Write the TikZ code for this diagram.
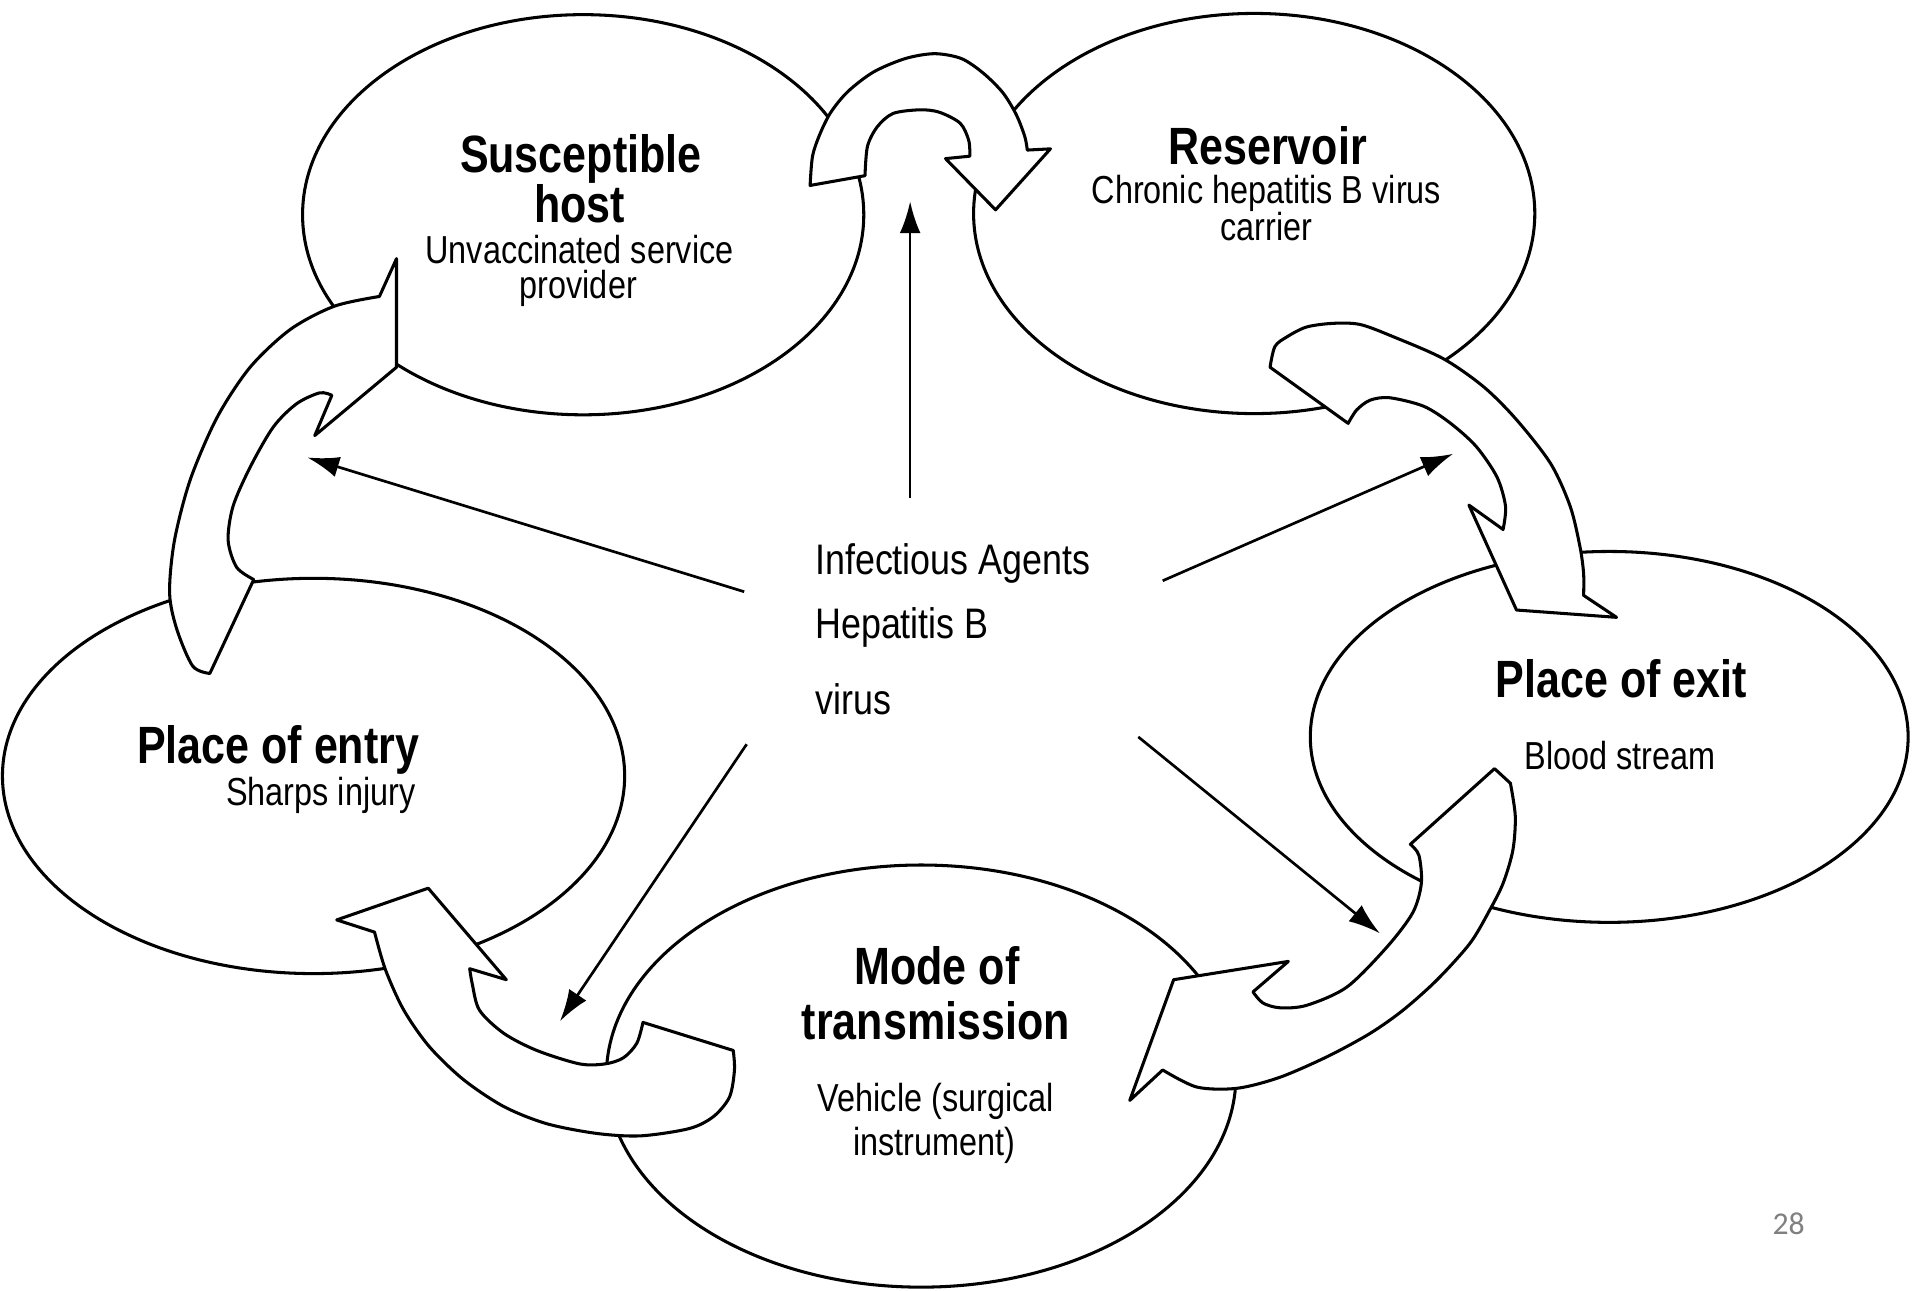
\documentclass[tikz,border=0pt]{standalone}
\usepackage{fontspec}
\setmainfont{Liberation Sans}[FakeStretch=0.83]
\newfontfamily\namefont{Liberation Sans}[FakeStretch=0.82]
\newfontfamily\agentfont{Liberation Sans}[FakeStretch=0.84]
\newfontfamily\slidefont{Carlito}
\usetikzlibrary{shapes.geometric,arrows.meta}

\tikzset{
  stage/.style={ellipse, draw, fill=white, line width=2.5pt, inner sep=0pt},
  ringarrow/.style={draw, fill=white, line width=2.5pt, line join=round},
  stagename/.style={font=\namefont\fontsize{43}{43}\selectfont\bfseries, inner sep=0pt, anchor=base},
  stagenote/.style={font=\fontsize{32}{32}\selectfont, inner sep=0pt, anchor=base},
  agentline/.style={font=\agentfont\fontsize{35}{35}\selectfont, inner sep=0pt, anchor=base west},
}

\begin{document}
\begin{tikzpicture}[>={Latex[length=26pt,width=17pt]},x=1pt,y=-1pt]
  \useasboundingbox (0,0) rectangle (1568,1058);

  % Links of the chain
  \node[stage, minimum width=460pt, minimum height=328pt] (host) at (478,176) {};
  \node[stage, minimum width=460pt, minimum height=328pt] (reservoir) at (1028,175) {};
  \node[stage, minimum width=490pt, minimum height=304pt] (exit) at (1319,604) {};
  \node[stage, minimum width=510pt, minimum height=324pt] (entry) at (257,636) {};
  \node[stage, minimum width=516pt, minimum height=346pt] (mode) at (755,882) {};

  % Host to reservoir
  \path[ringarrow]
    plot[smooth] coordinates {
      (664,152) (666,128) (672,110) (681,92) (695,75) (716,59) (742,48)
      (766,44) (788,48) (806,60) (822,76) (833,94) (840,112) (842,123)
    }
    -- (861,122) -- (816,172) -- (775,130) -- (795,128)
    -- plot[smooth] coordinates {
      (795,128) (794,115) (787,101) (770,92) (754,90) (732,93) (719,104)
      (711,120) (709,144)
    } -- cycle;

  % Reservoir to place of exit
  \path[ringarrow]
    plot[smooth] coordinates {
      (1041,301) (1045,284) (1055,276) (1071,268) (1093,265) (1115,266)
      (1142,276) (1183,294) (1216,317) (1243,344) (1271,380) (1287,415)
      (1295,448) (1298,470) (1298,488)
    }
    -- (1325,506) -- (1243,500) -- (1204,414) -- (1232,434)
    -- plot[smooth] coordinates {
      (1232,434) (1234,415) (1227,391) (1210,366) (1189,347) (1167,333)
      (1139,326) (1123,328) (1112,336) (1105,347)
    } -- cycle;

  % Place of exit to mode of transmission
  \path[ringarrow]
    (1225,630) -- (1238,642)
    -- plot[smooth] coordinates {
      (1238,642) (1242,669) (1240,697) (1232,724) (1221,746) (1205,773)
      (1178,803) (1150,828) (1123,847) (1088,866) (1049,883) (1014,892)
      (981,891) (953,877)
    }
    -- (926,902) -- (962,803) -- (1056,788) -- (1027,813)
    -- plot[smooth] coordinates {
      (1027,813) (1035,822) (1049,826) (1071,824) (1104,809) (1137,776)
      (1158,748) (1165,724) (1163,701) (1156,692)
    } -- cycle;

  % Mode of transmission to place of entry
  \path[ringarrow]
    (276,754) -- (351,728) -- (415,803) -- (385,794)
    -- plot[smooth] coordinates {
      (385,794) (387,806) (393,828) (413,847) (440,861) (475,872)
      (496,872) (511,867) (522,855) (527,838)
    }
    -- (601,861)
    -- plot[smooth] coordinates {
      (601,861) (602,877) (598,899) (585,915) (565,925) (525,931)
      (489,929) (448,921) (413,907) (380,885) (352,858) (331,828)
      (316,795) (307,764)
    } -- cycle;

  % Place of entry to host
  \path[ringarrow]
    (325,212) -- (325,301) -- (258,357) -- (272,324)
    -- plot[smooth] coordinates {
      (272,324) (262,322) (243,331) (224,350) (205,383) (191,415)
      (187,443) (194,465) (208,475)
    }
    -- (172,552)
    -- plot[smooth] coordinates {
      (172,552) (158,546) (145,516) (139,486) (143,443) (156,393)
      (178,342) (205,301) (238,270) (274,251) (311,243)
    } -- cycle;

  % Agent in the middle
  \node[agentline] (agent1) at (668,471) {Infectious Agents};
  \node[agentline] (agent2) at (668,523) {Hepatitis B};
  \node[agentline] (agent3) at (668,586) {virus};

  \coordinate (upFrom) at (746,408);
  \coordinate (upTo) at (746,165);
  \coordinate (leftFrom) at (610,485);
  \coordinate (leftTo) at (252,375);
  \coordinate (rightFrom) at (953,476);
  \coordinate (rightTo) at (1191,372);
  \coordinate (lowLeftFrom) at (612,610);
  \coordinate (lowLeftTo) at (459,837);
  \coordinate (lowRightFrom) at (933,604);
  \coordinate (lowRightTo) at (1131,765);

  \draw[->,line width=2.2pt] (upFrom) -- (upTo);
  \draw[->,line width=2.2pt] (leftFrom) -- (leftTo);
  \draw[->,line width=2.2pt] (rightFrom) -- (rightTo);
  \draw[->,line width=2.2pt] (lowLeftFrom) -- (lowLeftTo);
  \draw[->,line width=2.2pt] (lowRightFrom) -- (lowRightTo);

  % Labels
  \node[stagename] (hostA) at (476,141) {Susceptible};
  \node[stagename] (hostB) at (475,182) {host};
  \node[stagenote] (hostC) at (475,216) {Unvaccinated service};
  \node[stagenote] (hostD) at (474,245) {provider};

  \node[stagename] (resA) at (1039,135) {Reservoir};
  \node[stagenote] (resB) at (1038,167) {Chronic hepatitis B virus};
  \node[stagenote] (resC) at (1038,197) {carrier};

  \node[stagename] (exitA) at (1329,572) {Place of exit};
  \node[stagenote] (exitB) at (1328,631) {Blood stream};

  \node[stagename] (entryA) at (228,626) {Place of entry};
  \node[stagenote] (entryB) at (263,660) {Sharps injury};

  \node[stagename] (modeA) at (768,807) {Mode of};
  \node[stagename] (modeB) at (767,852) {transmission};
  \node[stagenote] (modeC) at (767,911) {Vehicle (surgical};
  \node[stagenote] (modeD) at (766,947) {instrument)};

  \node[font=\slidefont\fontsize{26}{26}\selectfont, text=gray, anchor=base] (page) at (1466,1012) {28};
\end{tikzpicture}
\end{document}
